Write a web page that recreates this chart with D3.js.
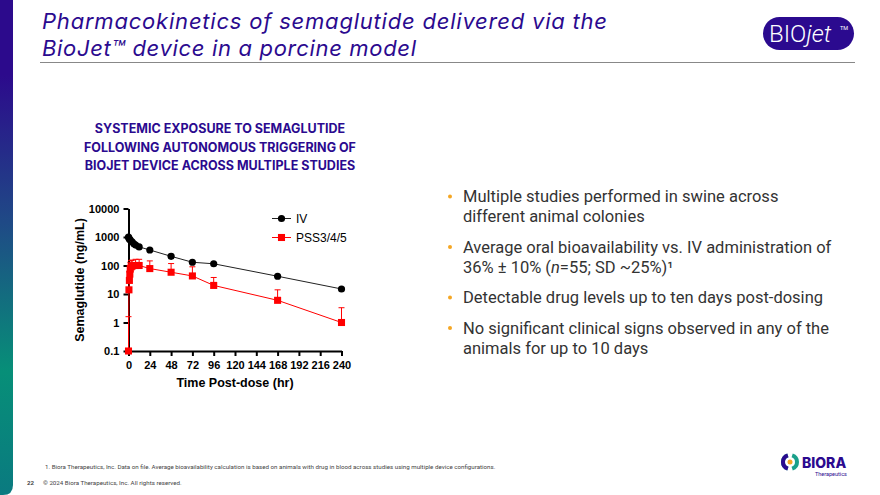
<!DOCTYPE html>
<html><head><meta charset="utf-8">
<script src="https://cdn.jsdelivr.net/npm/d3@7"></script>
<style>
html,body{margin:0;padding:0;background:#fff;}
svg{display:block;}
</style></head>
<body>
<svg id="c" width="880" height="495"></svg>
<script>
// ---- data ----
const xTicks = [0, 24, 48, 72, 96, 120, 144, 168, 192, 216, 240];
const yTicks = [0.1, 1, 10, 100, 1000, 10000];
const yTickLabels = ["0.1", "1", "10", "100", "1000", "10000"];
const ivTime = [0, 0.5, 1, 2, 4, 6, 8, 12, 24, 48, 72, 96, 168, 240];
const ivConc = [1000, 900, 850, 780, 680, 580, 520, 450, 350, 210, 130, 115, 42, 15];
const pssTime = [0, 0.5, 1, 1.5, 2, 3, 4, 8, 12, 24, 48, 72, 96, 168, 240];
const pssConc = [0.1, 14, 30, 50, 75, 90, 95, 100, 100, 78, 58, 43, 20, 6, 1];
const pssUpper = [1.6, 14, 60, 100, 130, 150, 155, 165, 165, 145, 117, 90, 38, 14, 3.3];
const seriesNames = ["IV", "PSS3/4/5"];
const bullets = [
  ["Multiple studies performed in swine across", "different animal colonies"],
  ["Average oral bioavailability vs. IV administration of", "36% ± 10% (n=55; SD ~25%)¹"],
  ["Detectable drug levels up to ten days post-dosing"],
  ["No significant clinical signs observed in any of the", "animals for up to 10 days"]
];

const svg = d3.select("#c");
const purple = "#2b0a8f";

// left stripe gradient
const defs = svg.append("defs");
const g1 = defs.append("linearGradient").attr("id","stripe").attr("x1",0).attr("y1",0).attr("x2",0).attr("y2",1);
g1.append("stop").attr("offset","0%").attr("stop-color","#2c0a8c");
g1.append("stop").attr("offset","15%").attr("stop-color","#2c0a8c");
g1.append("stop").attr("offset","45%").attr("stop-color","#1f4a86");
g1.append("stop").attr("offset","75%").attr("stop-color","#078f78");
g1.append("stop").attr("offset","100%").attr("stop-color","#0a7a80");
svg.append("path").attr("d","M0,0 H13 V485 Q13,495 3,495 H0 Z").attr("fill","url(#stripe)");

// title
const titleLines = [
  {t:"Pharmacokinetics of semaglutide delivered via the", y:28.5, w:565},
  {t:"BioJet™ device in a porcine model", y:56, w:374}
];
svg.append("g").selectAll("text").data(titleLines).join("text")
  .attr("x",42).attr("y",d=>d.y)
  .attr("font-family","Inter, Roboto, sans-serif").attr("font-style","italic").attr("font-size",22)
  .attr("fill",purple).attr("textLength",d=>d.w).attr("lengthAdjust","spacing").text(d=>d.t);
svg.append("line").attr("x1",40).attr("x2",855).attr("y1",62.5).attr("y2",62.5).attr("stroke","#888").attr("stroke-width",1);

// BIOjet logo
svg.append("rect").attr("x",763).attr("y",17).attr("width",91).attr("height",33).attr("rx",16.5).attr("fill",purple);
const lt = svg.append("text").attr("x",769).attr("y",42).attr("font-family","Roboto, sans-serif").attr("font-weight",300).attr("font-size",24).attr("fill","#fff");
lt.append("tspan").text("BIO");
lt.append("tspan").attr("font-style","italic").text("jet");
svg.append("text").attr("x",840).attr("y",30).attr("font-family","Roboto, sans-serif").attr("font-size",5.5).attr("fill","#fff").text("TM");

// subtitle
const sub = ["SYSTEMIC EXPOSURE TO SEMAGLUTIDE","FOLLOWING AUTONOMOUS TRIGGERING OF","BIOJET DEVICE ACROSS MULTIPLE STUDIES"];
svg.append("g").selectAll("text").data(sub).join("text")
  .attr("x",220).attr("y",(d,i)=>133+i*18.5).attr("text-anchor","middle")
  .attr("font-family","Inter, Roboto, sans-serif").attr("font-weight",700).attr("font-size",12.5).attr("fill",purple)
  .text(d=>d);

// chart
const x = d3.scaleLinear().domain([0,240]).range([128.5,341.5]);
const y = d3.scaleLog().domain([0.1,10000]).range([351,208.5]);
const chart = svg.append("g").attr("font-family","'Liberation Sans', Arial, sans-serif");

const xAxis = chart.append("g").attr("transform","translate(0,351)")
  .call(d3.axisBottom(x).tickValues(xTicks).tickSize(5).tickSizeOuter(0));
const yAxis = chart.append("g").attr("transform","translate(128.5,0)")
  .call(d3.axisLeft(y).tickValues(yTicks).tickFormat((d,i)=>yTickLabels[i]).tickSize(5).tickSizeOuter(0));
[xAxis,yAxis].forEach(a=>{
  a.select(".domain").attr("stroke","#000").attr("stroke-width",2);
  a.selectAll(".tick line").attr("stroke","#000").attr("stroke-width",2);
  a.selectAll(".tick text").attr("font-family","'Liberation Sans', Arial, sans-serif").attr("font-weight",700).attr("font-size",11).attr("fill","#000");
});
xAxis.selectAll(".tick text").attr("dy","0.9em");
yAxis.selectAll(".tick text").attr("dx","-0.1em");

chart.append("text").attr("x",235).attr("y",387).attr("text-anchor","middle").attr("font-weight",700).attr("font-size",12.5).text("Time Post-dose (hr)");
chart.append("text").attr("transform","translate(84,280) rotate(-90)").attr("text-anchor","middle").attr("font-weight",700).attr("font-size",12.5).text("Semaglutide (ng/mL)");

const iv = ivTime.map((t,i)=>({t, v:ivConc[i]}));
const pss = pssTime.map((t,i)=>({t, v:pssConc[i], u:pssUpper[i]}));
const line = d3.line().x(d=>x(d.t)).y(d=>y(d.v));
const red = "#ff0000";

// PSS error bars
chart.append("g").selectAll("g").data(pss.filter(d=>d.u>d.v)).join("g").each(function(d){
  const g = d3.select(this);
  g.append("line").attr("x1",x(d.t)).attr("x2",x(d.t)).attr("y1",y(d.v)).attr("y2",y(d.u)).attr("stroke",red).attr("stroke-width",1);
  g.append("line").attr("x1",x(d.t)-3).attr("x2",x(d.t)+3).attr("y1",y(d.u)).attr("y2",y(d.u)).attr("stroke",red).attr("stroke-width",1);
});
chart.append("path").datum(pss).attr("d",line).attr("fill","none").attr("stroke",red).attr("stroke-width",1);
chart.append("path").datum(iv).attr("d",line).attr("fill","none").attr("stroke","#222").attr("stroke-width",1);

const sq = d3.symbol().type(d3.symbolSquare).size(50);
chart.append("g").selectAll("path").data(pss).join("path")
  .attr("transform",d=>`translate(${x(d.t)},${y(d.v)})`).attr("d",sq).attr("fill",red);
chart.append("g").selectAll("circle").data(iv).join("circle")
  .attr("cx",d=>x(d.t)).attr("cy",d=>y(d.v)).attr("r",3.6).attr("fill","#000");

// legend
const leg = chart.append("g");
[0,1].forEach(i=>{
  const ly = 218.5 + i*19;
  leg.append("line").attr("x1",272).attr("x2",291).attr("y1",ly).attr("y2",ly).attr("stroke",i?red:"#222").attr("stroke-width",1);
  if(i===0) leg.append("circle").attr("cx",281.5).attr("cy",ly).attr("r",3.6).attr("fill","#000");
  else leg.append("path").attr("transform",`translate(281.5,${ly})`).attr("d",sq).attr("fill",red);
  leg.append("text").attr("x",296).attr("y",ly+4.5).attr("font-size",12).attr("fill","#000").text(seriesNames[i]);
});

// bullets
const bl = svg.append("g").attr("font-family","Roboto, 'Open Sans', sans-serif").attr("font-size",16.5).attr("fill","#333");
let yy = 202;
bullets.forEach(b=>{
  bl.append("circle").attr("cx",450).attr("cy",yy-5.5).attr("r",2).attr("fill","#f5a623");
  b.forEach((ln,j)=>{
    const t = bl.append("text").attr("x",463).attr("y",yy + j*20);
    if(ln.includes("n=55")){
      const parts = ln.split("n=55");
      t.append("tspan").text(parts[0]);
      t.append("tspan").attr("font-style","italic").text("n");
      t.append("tspan").text("=55" + parts[1]);
    } else t.text(ln);
  });
  yy += (b.length-1)*20 + 30.5;
});

// footnotes
svg.append("text").attr("x",45).attr("y",469).attr("font-family","Roboto, sans-serif").attr("font-size",6.2).attr("fill","#444")
  .text("1.  Biora Therapeutics, Inc. Data on file. Average bioavailability calculation is based on animals with drug in blood across studies using multiple device configurations.");
svg.append("text").attr("x",27).attr("y",485).attr("font-family","Roboto, sans-serif").attr("font-size",6.2).attr("font-weight",700).attr("fill","#444").text("22");
svg.append("text").attr("x",43).attr("y",485).attr("font-family","Roboto, sans-serif").attr("font-size",6.2).attr("fill","#444").text("© 2024 Biora Therapeutics, Inc. All rights reserved.");

// BIORA logo
const lg = svg.append("g");
lg.append("path").attr("d",d3.arc()({innerRadius:5,outerRadius:9,startAngle:-Math.PI*0.9,endAngle:-Math.PI*0.1})).attr("transform","translate(790,462)").attr("fill","#1aa08a");
lg.append("path").attr("d",d3.arc()({innerRadius:5,outerRadius:9,startAngle:Math.PI*0.1,endAngle:Math.PI*0.9})).attr("transform","translate(790,462)").attr("fill","#1aa08a");
lg.append("path").attr("d",d3.arc()({innerRadius:5,outerRadius:9,startAngle:Math.PI*1.1,endAngle:Math.PI*1.9})).attr("transform","translate(790,462)").attr("fill",purple);
lg.append("circle").attr("cx",790).attr("cy",462).attr("r",2.5).attr("fill","#f5a623");
lg.append("text").attr("x",802).attr("y",468).attr("font-family","Inter, Roboto, sans-serif").attr("font-weight",800).attr("font-size",14).attr("fill",purple).text("BIORA");
lg.append("text").attr("x",815).attr("y",476).attr("font-family","Roboto, sans-serif").attr("font-size",5.5).attr("fill",purple).text("Therapeutics");
</script>
</body></html>
